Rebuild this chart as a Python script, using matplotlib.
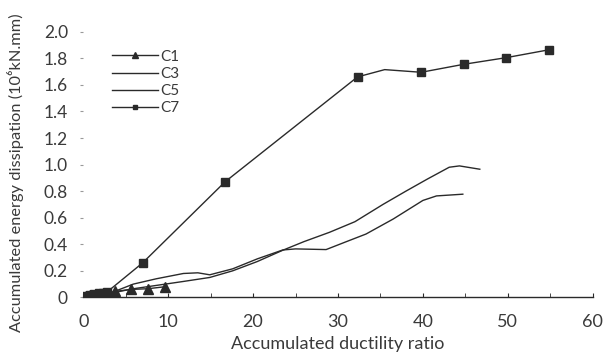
import matplotlib
matplotlib.use("Agg")
import matplotlib.pyplot as plt
from matplotlib.ticker import MultipleLocator

plt.rcParams['font.family'] = ['Lato', 'DejaVu Sans']

# C1 (triangles)
c1_x = [0.3, 0.8, 1.3, 1.8, 2.3, 2.8, 3.8, 5.6, 7.6, 9.6]
c1_y = [0.01, 0.015, 0.02, 0.02, 0.025, 0.03, 0.045, 0.06, 0.065, 0.08]

# C3 (plain line, upper end)
c3_x = [0, 1, 3.5, 5.9, 8.6, 11.8, 14.9, 17.6, 20.5, 23.5, 26, 29, 32, 35.3, 38, 40.5, 43.1, 44.3, 46.7]
c3_y = [0, 0.01, 0.035, 0.065, 0.09, 0.12, 0.15, 0.20, 0.27, 0.355, 0.42, 0.49, 0.57, 0.70, 0.80, 0.89, 0.98, 0.99, 0.965]

# C5 (plain line, lower end)
c5_x = [0, 1, 3.5, 5.9, 8.6, 11.8, 13.5, 14.9, 17.6, 20.5, 23.5, 25, 28.6, 31, 33.3, 36.5, 40, 41.6, 44.7]
c5_y = [0, 0.01, 0.04, 0.10, 0.14, 0.18, 0.185, 0.17, 0.215, 0.29, 0.357, 0.365, 0.36, 0.42, 0.477, 0.59, 0.73, 0.764, 0.777]

# C7 (squares)
c7_x = [0.3, 0.8, 1.3, 1.8, 2.3, 2.8, 7.0, 16.7, 32.3, 35.5, 39.8, 44.8, 49.8, 54.9]
c7_y = [0.01, 0.02, 0.025, 0.03, 0.035, 0.04, 0.26, 0.87, 1.66, 1.715, 1.695, 1.755, 1.805, 1.865]
c7_marked = [0, 1, 2, 3, 4, 5, 6, 7, 8, 10, 11, 12, 13]

x_ticks = [0, 10, 20, 30, 40, 50, 60]
y_ticks = [0, 0.2, 0.4, 0.6, 0.8, 1.0, 1.2, 1.4, 1.6, 1.8, 2.0]
y_ticklabels = ['0', '0.2', '0.4', '0.6', '0.8', '1.0', '1.2', '1.4', '1.6', '1.8', '2.0']

col = '#2a2a2a'
txt = '#3a3a3a'
fig = plt.figure(figsize=(6.03, 3.57), dpi=100)
ax = fig.add_axes([0.138, 0.167, 0.845, 0.744])

ax.plot(c1_x, c1_y, color=col, lw=1.0, marker='^', ms=7, label='C1')
ax.plot(c3_x, c3_y, color=col, lw=1.0, label='C3')
ax.plot(c5_x, c5_y, color=col, lw=1.0, label='C5')
ax.plot(c7_x, c7_y, color=col, lw=1.0, marker='s', ms=5.5, markevery=c7_marked, label='C7')

ax.set_xlim(0, 60)
ax.set_ylim(0, 2.0)
ax.set_xticks(x_ticks)
ax.xaxis.set_minor_locator(MultipleLocator(5))
ax.set_yticks(y_ticks)
ax.set_yticklabels(y_ticklabels)

for s in ['top', 'right', 'left']:
    ax.spines[s].set_visible(False)
ax.spines['bottom'].set_color(col)
ax.spines['bottom'].set_linewidth(1.0)

ax.tick_params(axis='x', which='both', direction='in', length=3, color=col, labelsize=13, labelcolor=txt, pad=12)
ax.tick_params(axis='y', direction='out', length=2, color='#999999', labelsize=12.5, labelcolor=txt, pad=9)

ax.set_xlabel('Accumulated ductility ratio', fontsize=13, color=txt, labelpad=4)
ax.set_ylabel('Accumulated energy dissipation (10\u2076kN.mm)', fontsize=11.8, color=txt)
ax.yaxis.set_label_coords(-0.117, 0.468)

leg = ax.legend(loc='upper left', bbox_to_anchor=(0.045, 0.955), frameon=False, fontsize=11,
                handlelength=3.0, handletextpad=0.15, labelspacing=0.2, borderaxespad=0,
                markerscale=0.6)
for t in leg.get_texts():
    t.set_color(txt)

fig.savefig('out.png', dpi=100)
